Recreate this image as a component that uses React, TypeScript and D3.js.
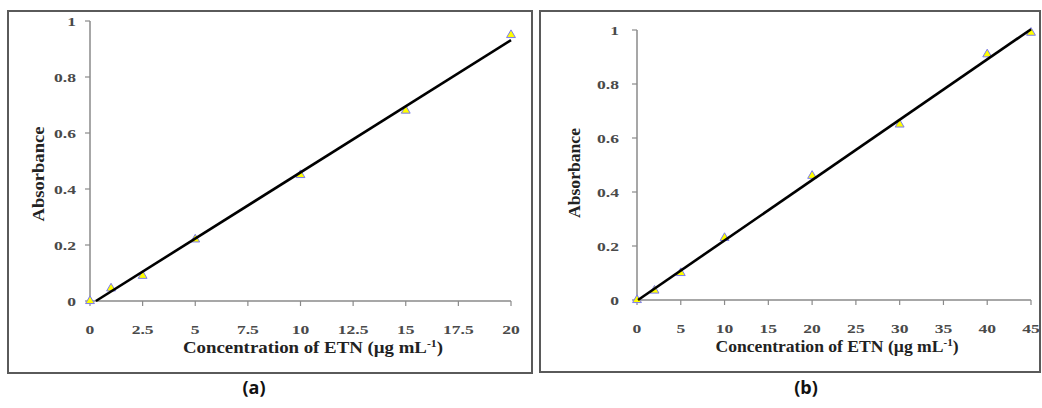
import React from 'react';
import * as d3 from 'd3';

// calibration data
const concA = [0, 1, 2.5, 5, 10, 15, 20];
const absA = [0, 0.045, 0.09, 0.22, 0.45, 0.68, 0.95];
const concB = [0, 2, 5, 10, 20, 30, 40, 45];
const absB = [0, 0.035, 0.1, 0.23, 0.46, 0.65, 0.91, 0.99];

const xTicksA = [0, 2.5, 5, 7.5, 10, 12.5, 15, 17.5, 20];
const xTicksB = [0, 5, 10, 15, 20, 25, 30, 35, 40, 45];
const yTicks = [0, 0.2, 0.4, 0.6, 0.8, 1];

const panelLabels = ['(a)', '(b)'];

const SERIF = '"Liberation Serif", "DejaVu Serif", serif';
const SANS = '"Open Sans", "Noto Sans", sans-serif';

interface PanelProps {
  xs: number[];
  ys: number[];
  xTicks: number[];
  xMax: number;
  box: { x: number; y: number; w: number; h: number };
  xRange: [number, number];
  yRange: [number, number];
  yLabelX: number;
  yLabelY: number;
  yLabelLen: number;
  titleX: number;
  titleY: number;
  titleLen: number;
  tickGap: number;
  label: string;
  labelX: number;
}

// simple least squares fit, like the excel trendline
function fit(xs: number[], ys: number[]) {
  const mx = d3.mean(xs) ?? 0;
  const my = d3.mean(ys) ?? 0;
  const sxy = d3.sum(xs, (x, i) => (x - mx) * (ys[i] - my));
  const sxx = d3.sum(xs, x => (x - mx) ** 2);
  const slope = sxy / sxx;
  return { slope, intercept: my - slope * mx };
}

// tick text, stretched a bit wide like the original export
const Tick: React.FC<{ x: number; y: number; anchor: string; children: React.ReactNode }> = ({ x, y, anchor, children }) => (
  <text transform={`translate(${x},${y}) scale(1.35,1)`} dy="0.35em" textAnchor={anchor}
    fontFamily={SERIF} fontSize={13} fontWeight="bold" fill="#4a4a4a">{children}</text>
);

const Panel: React.FC<PanelProps> = p => {
  const x = d3.scaleLinear().domain([0, p.xMax]).range(p.xRange);
  const y = d3.scaleLinear().domain([0, 1]).range(p.yRange);

  const { slope, intercept } = fit(p.xs, p.ys);
  const x0 = Math.max(0, -intercept / slope);
  const x1 = d3.max(p.xs) ?? p.xMax;
  const line = d3.line<number>().x(d => x(d)).y(d => y(slope * d + intercept));

  const tri = d3.symbol().type(d3.symbolTriangle).size(34)() ?? '';

  return (
    <g>
      <rect x={p.box.x} y={p.box.y} width={p.box.w} height={p.box.h}
        fill="#fff" stroke="#5a5a5a" strokeWidth={2} />

      {/* y axis */}
      <line x1={p.xRange[0]} x2={p.xRange[0]} y1={y(0)} y2={y(1)} stroke="#8a8a8a" strokeWidth={1.5} />
      {yTicks.map(t => (
        <g key={t}>
          <line x1={p.xRange[0] - 5} x2={p.xRange[0]} y1={y(t)} y2={y(t)} stroke="#8a8a8a" strokeWidth={1.2} />
          <Tick x={p.xRange[0] - p.tickGap} y={y(t)} anchor="end">{String(t)}</Tick>
        </g>
      ))}

      {/* x axis */}
      <line x1={x(0)} x2={x(p.xMax)} y1={y(0)} y2={y(0)} stroke="#8a8a8a" strokeWidth={1.5} />
      {p.xTicks.map(t => (
        <g key={t}>
          <line x1={x(t)} x2={x(t)} y1={y(0)} y2={y(0) + 5} stroke="#8a8a8a" strokeWidth={1.2} />
          <Tick x={x(t)} y={y(0) + 28} anchor="middle">{String(t)}</Tick>
        </g>
      ))}

      {/* points then trendline */}
      {p.xs.map((v, i) => (
        <path key={i} d={tri} transform={`translate(${x(v)},${y(p.ys[i])})`}
          fill="#ffff00" stroke="#7b7bf0" strokeWidth={1} />
      ))}
      <path d={line([x0, x1]) ?? ''} fill="none" stroke="#000" strokeWidth={2.6} />

      <text transform={`translate(${p.yLabelX},${p.yLabelY}) rotate(-90)`} textAnchor="middle"
        textLength={p.yLabelLen} lengthAdjust="spacingAndGlyphs"
        fontFamily={SERIF} fontWeight="bold" fontSize={16} fill="#222">Absorbance</text>
      <text x={p.titleX - p.titleLen / 2} y={p.titleY} fontFamily={SERIF}
        textLength={p.titleLen} lengthAdjust="spacingAndGlyphs"
        fontWeight="bold" fontSize={16} fill="#222">
        Concentration of ETN (µg mL<tspan dy={-6} fontSize={10}>-1</tspan><tspan dy={6}>)</tspan>
      </text>

      <text x={p.labelX} y={394} textAnchor="middle" fontFamily={SANS} fontWeight="bold"
        fontSize={18} fill="#111">{p.label}</text>
    </g>
  );
};

export default function App() {
  return (
    <svg width={1042} height={408} style={{ position: 'absolute', left: 0, top: 0 }}>
      <rect width={1042} height={408} fill="#fff" />
      <Panel xs={concA} ys={absA} xTicks={xTicksA} xMax={20}
        box={{ x: 8, y: 11, w: 524, h: 362 }} xRange={[90, 511]} yRange={[301, 21]}
        yLabelX={44} yLabelY={174} yLabelLen={95} titleX={313} titleY={353} titleLen={260} tickGap={14}
        label={panelLabels[0]} labelX={254} />
      <Panel xs={concB} ys={absB} xTicks={xTicksB} xMax={45}
        box={{ x: 540, y: 11, w: 500, h: 361 }} xRange={[637, 1031]} yRange={[300, 30]}
        yLabelX={580} yLabelY={173} yLabelLen={90} titleX={837} titleY={352} titleLen={243} tickGap={18}
        label={panelLabels[1]} labelX={806} />
    </svg>
  );
}
